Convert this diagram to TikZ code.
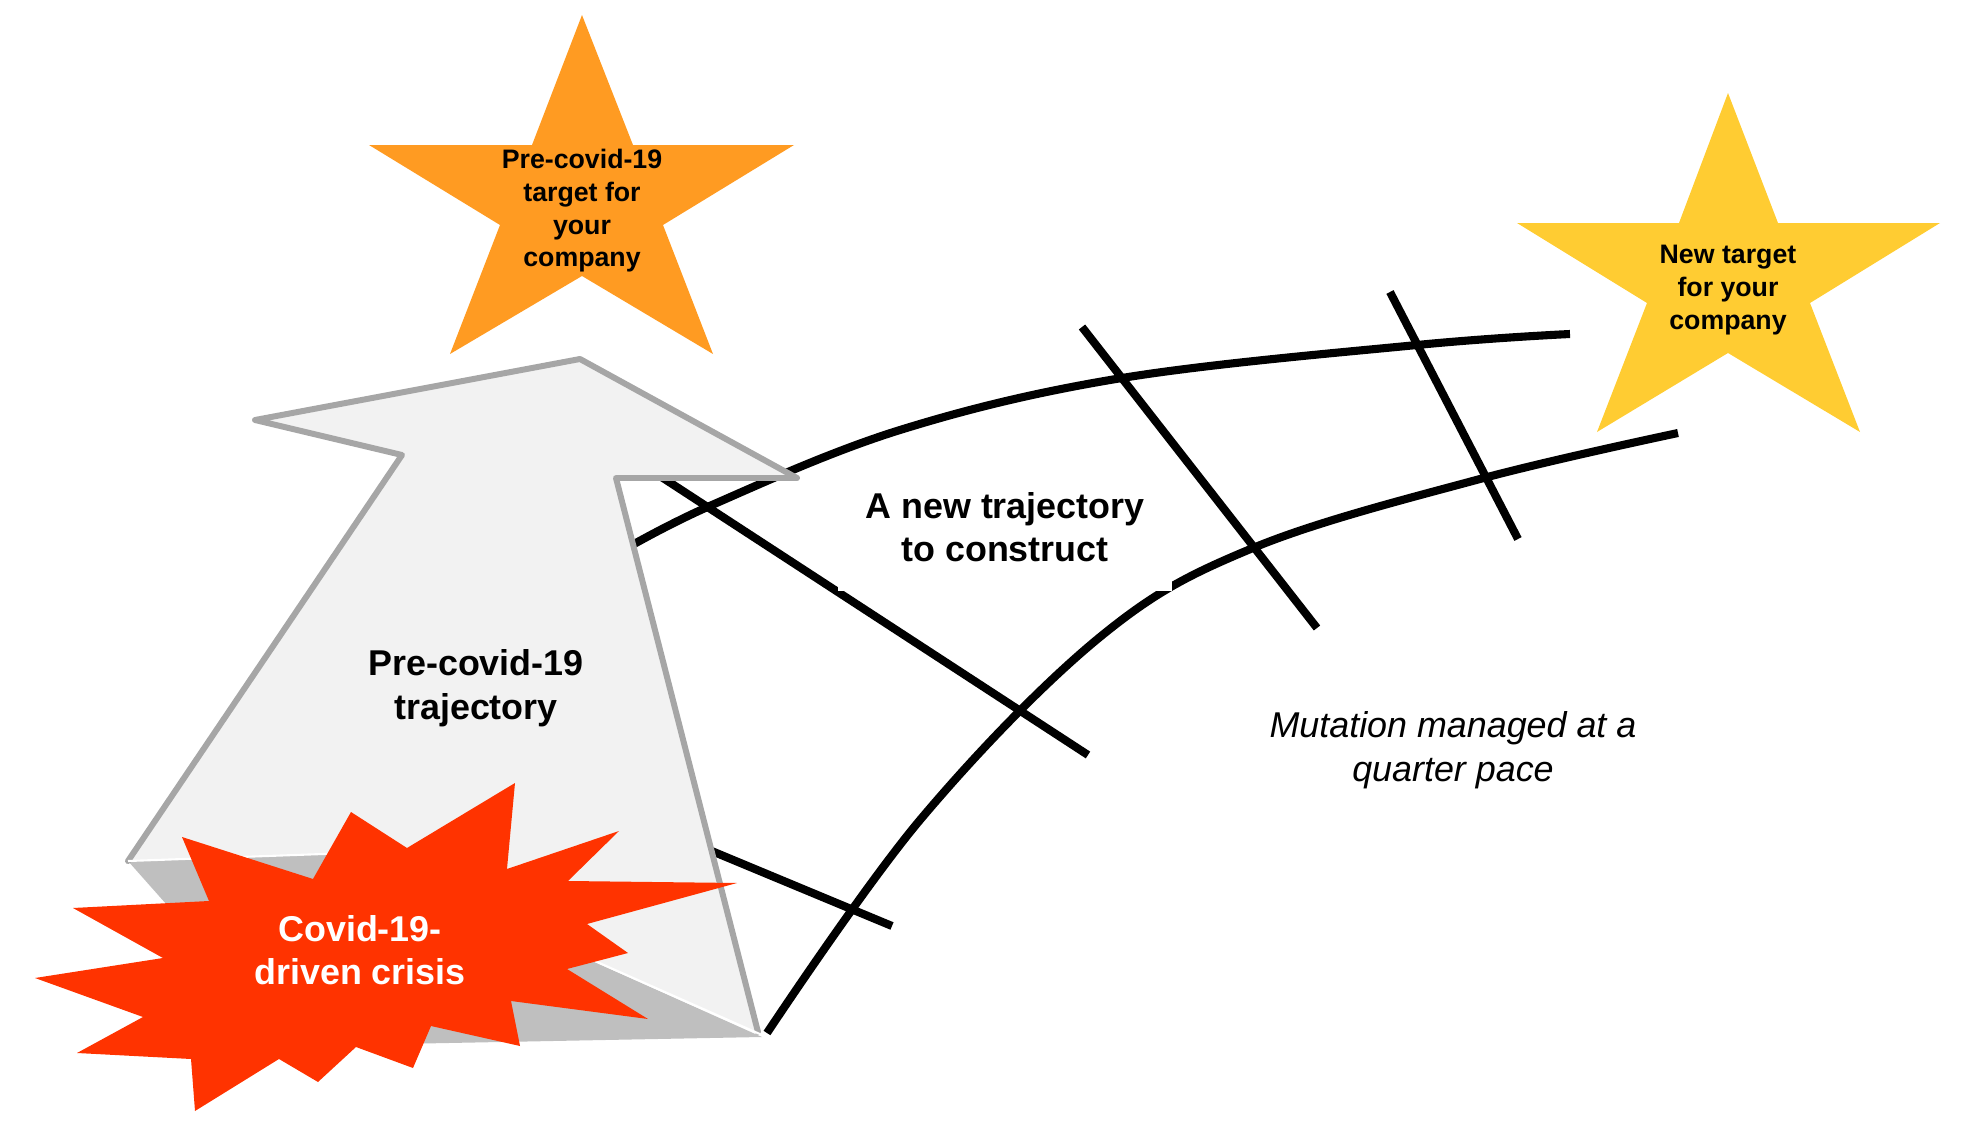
\documentclass[tikz,border=0pt]{standalone}
\usepackage{fontspec}
\setmainfont{Liberation Sans}
\usepackage{xcolor}
\usepackage{tikz}

\definecolor{crisisred}{HTML}{FF3300}
\definecolor{oldstar}{HTML}{FF9B22}
\definecolor{newstar}{HTML}{FFCC32}
\definecolor{arrowfill}{HTML}{F2F2F2}
\definecolor{arrowline}{HTML}{A6A6A6}
\definecolor{arrowshade}{HTML}{BFBFBF}

\begin{document}
\begin{tikzpicture}[
    x=0.01cm, y=-0.01cm,
    trail/.style = {line width=2.3pt, black},
    lbl/.style = {align=center, inner sep=0pt,
                  font=\fontsize{10.2}{12.4}\selectfont\bfseries},
    starlbl/.style = {align=center, inner sep=0pt,
                  font=\fontsize{7.6}{9.3}\selectfont\bfseries}
]
\useasboundingbox (0,0) rectangle (1962,1124);

% New trajectory (two rails and four sleepers)
\draw[trail] plot[smooth, tension=0.6] coordinates {(620,552) (712,505) (900,430) (1122,378) (1417,345) (1570,334)};
\draw[trail] plot[smooth, tension=0.6] coordinates {(767,1033) (920,820) (1100,637) (1253,548) (1480,479) (1678,433)};
\draw[trail] (690,842) -- (892,926);
\draw[trail] (640,463) -- (1088,755);
\draw[trail] (1082,327) -- (1317,628);
\draw[trail] (1390,292) -- (1518,539);

\node[lbl, fill=white, minimum width=3.34cm, minimum height=1.27cm] (newtraj) at (1005,527) {A new trajectory\\to construct};

% Pre-covid-19 arrow
\fill[arrowshade] (128,861) -- (292,1046) -- (762,1037) -- (351,853) -- cycle;
\fill[arrowfill] (128,861) -- (402,455) -- (255,420) -- (580,359) -- (797,478) -- (616,478) -- (760,1034) -- (351,853) -- cycle;
\draw[arrowline, line width=1.7pt, line join=round, line cap=round] (128,861) -- (402,455) -- (255,420) -- (580,359) -- (797,478) -- (616,478) -- (758,1032);
\draw[white, line width=0.6pt] (128,861) -- (351,853) -- (762,1035);
\node[lbl] (oldtraj) at (476,688) {Pre-covid-19\\trajectory};

% Crisis
\fill[crisisred] (515,783) -- (507,869) -- (619,831) -- (568,881) -- (737,883) -- (587,924) -- (628,953) -- (567,969) -- (648,1019) -- (511,1001) -- (520,1046) -- (431,1026) -- (413,1068) -- (356,1047) -- (318,1082) -- (279,1059) -- (195,1111) -- (191,1059) -- (77,1053) -- (143,1017) -- (35,978) -- (163,958) -- (73,908) -- (209,901) -- (182,837) -- (313,879) -- (351,812) -- (407,848) -- cycle;
\node[lbl, text=white] (crisis) at (360,950) {Covid-19-\\driven crisis};

% Targets
\fill[oldstar] (582,15) -- (633,145) -- (794,145) -- (663,225) -- (713,354) -- (582,276) -- (450,354) -- (500,225) -- (369,145) -- (532,145) -- cycle;
\node[starlbl] (oldtarget) at (582,211) {Pre-covid-19\\target for\\your\\company};

\fill[newstar] (1728,93) -- (1778,223) -- (1940,223) -- (1810,303) -- (1860,432) -- (1728,353) -- (1597,432) -- (1647,303) -- (1517,223) -- (1679,223) -- cycle;
\node[starlbl] (newtarget) at (1728,290) {New target\\for your\\company};

% Pace
\node[align=center, inner sep=0pt, font=\fontsize{10.2}{12.4}\selectfont\itshape] (pace) at (1453,750) {Mutation managed at a\\quarter pace};

\end{tikzpicture}
\end{document}
